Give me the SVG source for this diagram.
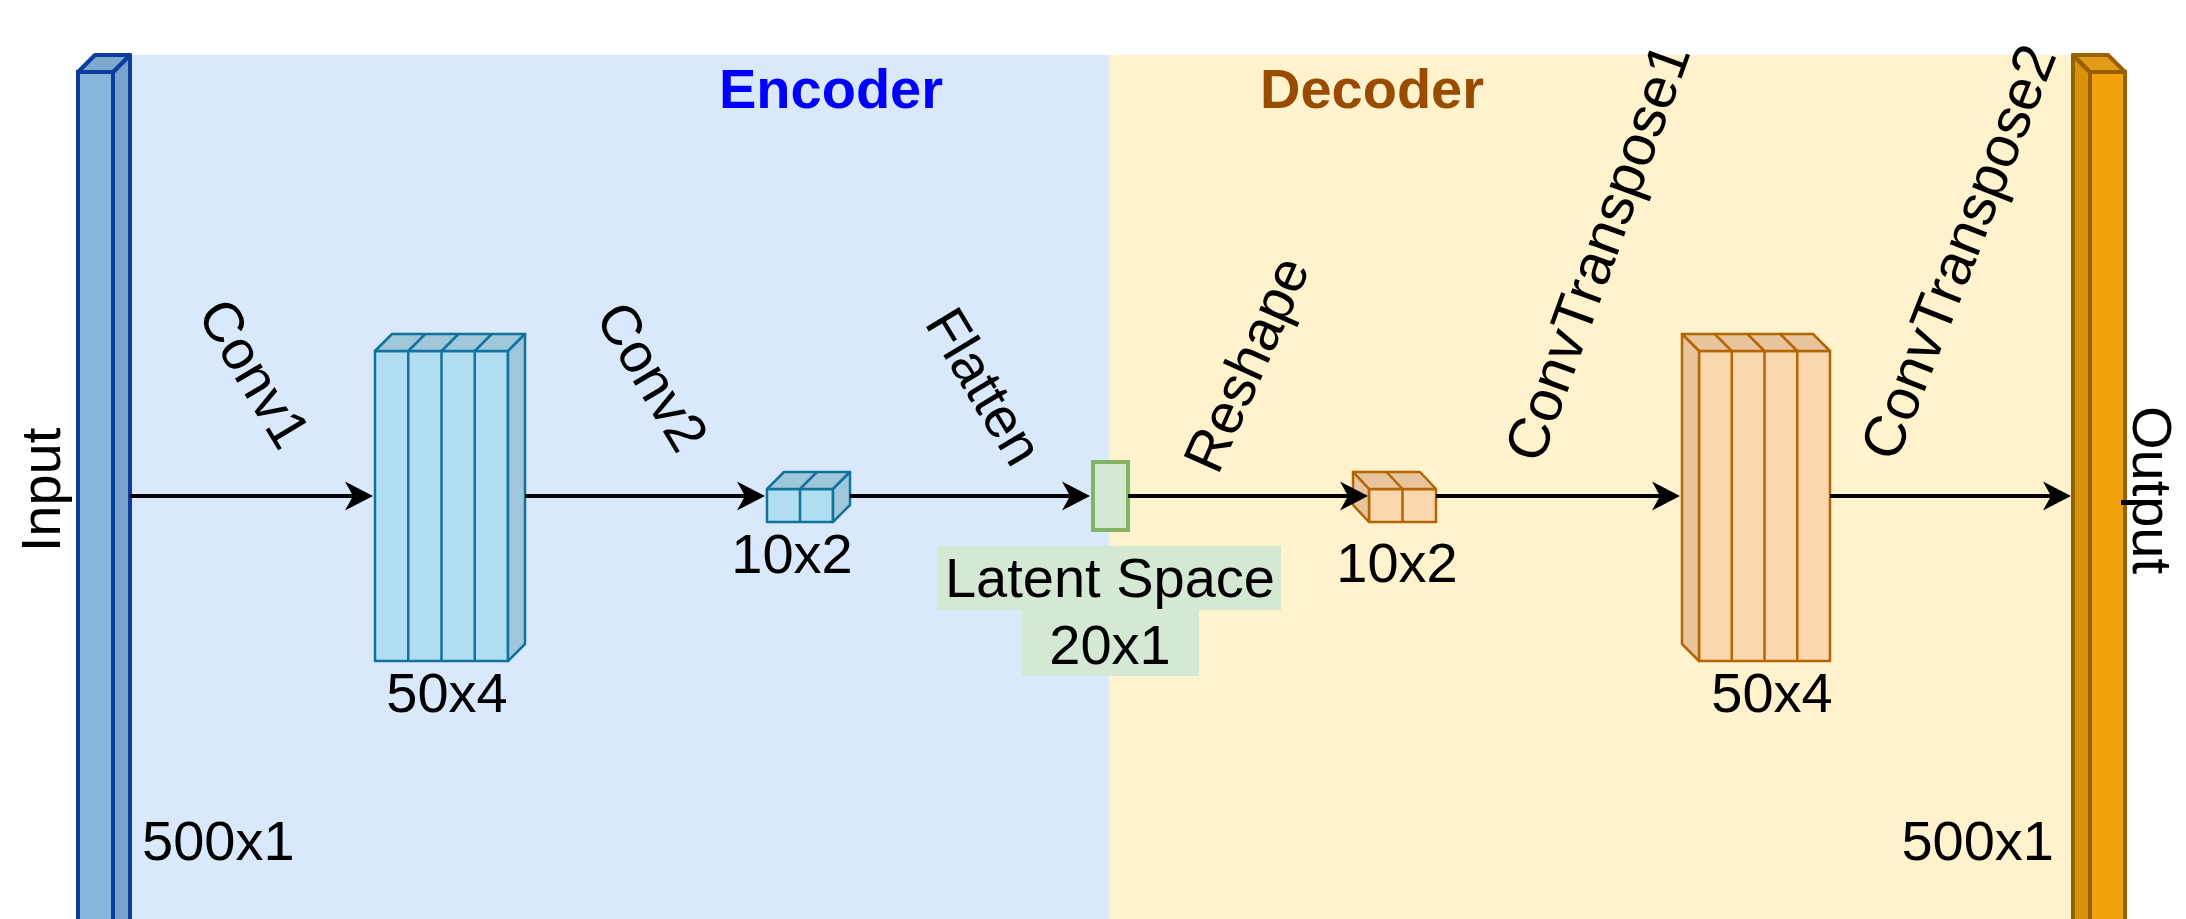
<svg xmlns="http://www.w3.org/2000/svg" width="2186" height="919" viewBox="0 0 2186 919">
<style>
text{font-family:"Liberation Sans",Arial,sans-serif;font-size:56px;fill:#000}
.title{font-weight:bold}
.big{font-size:58px}
.enc{stroke:#10739E;stroke-width:2.5;stroke-linejoin:round}
.encF{fill:#B1DDF0}
.encS{fill:#A0C6D9}
.dec{stroke:#B46504;stroke-width:2.5;stroke-linejoin:round}
.decF{fill:#FAD7AC}
.decS{fill:#E8C49C}
.edge{stroke:#000;stroke-width:4;fill:none;marker-end:url(#arr)}
</style>
<defs>
<marker id="arr" markerUnits="userSpaceOnUse" markerWidth="30" markerHeight="30" viewBox="0 0 30 30" refX="8" refY="15" orient="auto">
<path d="M0,0.5 L28,15 L0,29.5 L8,15 Z" fill="#000"/>
</marker>
</defs>
<rect x="0" y="0" width="2186" height="919" fill="#FFFFFF"/>
<g id="panels">
<rect x="95" y="55" width="1014.5" height="864" fill="#DAE8FC"/>
<rect x="1109.5" y="55" width="980" height="864" fill="#FFF2CC"/>
<text class="title" x="831" y="108" text-anchor="middle" style="fill:#0000FF">Encoder</text>
<text class="title" x="1372" y="108" text-anchor="middle" style="fill:#994C00">Decoder</text>
</g>
<g id="input">
<rect x="78" y="72" width="35" height="860" fill="#87B5DB" stroke="#0B3C9E" stroke-width="4"/>
<polygon points="113,72 130,55 130,932 113,932" fill="#79A3C8" stroke="#0B3C9E" stroke-width="4" stroke-linejoin="round"/>
<polygon points="78,72 95,55 130,55 113,72" fill="#7FA9CC" stroke="#0B3C9E" stroke-width="4" stroke-linejoin="round"/>
<text transform="translate(60,490) rotate(-90)" text-anchor="middle">Input</text>
<text x="142" y="860">500x1</text>
</g>
<g id="conv1-out">
<rect class="enc encF" x="375" y="351" width="133" height="310"/>
<line class="enc" x1="408.25" y1="351" x2="408.25" y2="661"/>
<line class="enc" x1="441.5" y1="351" x2="441.5" y2="661"/>
<line class="enc" x1="474.75" y1="351" x2="474.75" y2="661"/>
<polygon class="enc encS" points="375,351 392,334 525,334 508,351"/>
<line class="enc" x1="408.25" y1="351" x2="425.25" y2="334"/>
<line class="enc" x1="441.5" y1="351" x2="458.5" y2="334"/>
<line class="enc" x1="474.75" y1="351" x2="491.75" y2="334"/>
<polygon class="enc encS" points="508,351 525,334 525,644 508,661"/>
<text x="447" y="712" text-anchor="middle">50x4</text>
</g>
<g id="conv2-out">
<rect class="enc encF" x="767" y="489" width="66" height="33"/>
<line class="enc" x1="800" y1="489" x2="800" y2="522"/>
<polygon class="enc encS" points="767,489 784,472 850,472 833,489"/>
<line class="enc" x1="800" y1="489" x2="817" y2="472"/>
<polygon class="enc encS" points="833,489 850,472 850,505 833,522"/>
<text x="792" y="573" text-anchor="middle">10x2</text>
</g>
<g id="latent">
<rect x="1093" y="462" width="35" height="68" fill="#D5E8D4" stroke="#82B366" stroke-width="4"/>
<rect x="938" y="546" width="343" height="64" fill="#D5E8D4"/>
<rect x="1022" y="610" width="177" height="66" fill="#D5E8D4"/>
<text x="1110" y="597" text-anchor="middle">Latent Space</text>
<text x="1110" y="664" text-anchor="middle">20x1</text>
</g>
<g id="reshape-out">
<rect class="dec decF" x="1369" y="489" width="67" height="33"/>
<line class="dec" x1="1402.5" y1="489" x2="1402.5" y2="522"/>
<polygon class="dec decS" points="1369,489 1353,472 1420,472 1436,489"/>
<line class="dec" x1="1402.5" y1="489" x2="1386.5" y2="472"/>
<polygon class="dec decS" points="1369,489 1353,472 1353,505 1369,522"/>
<text x="1397" y="582" text-anchor="middle">10x2</text>
</g>
<g id="convt1-out">
<rect class="dec decF" x="1699" y="351" width="131" height="310"/>
<line class="dec" x1="1731.75" y1="351" x2="1731.75" y2="661"/>
<line class="dec" x1="1764.5" y1="351" x2="1764.5" y2="661"/>
<line class="dec" x1="1797.25" y1="351" x2="1797.25" y2="661"/>
<polygon class="dec decS" points="1699,351 1682,334 1813,334 1830,351"/>
<line class="dec" x1="1731.75" y1="351" x2="1714.75" y2="334"/>
<line class="dec" x1="1764.5" y1="351" x2="1747.5" y2="334"/>
<line class="dec" x1="1797.25" y1="351" x2="1780.25" y2="334"/>
<polygon class="dec decS" points="1699,351 1682,334 1682,644 1699,661"/>
<text x="1772" y="712" text-anchor="middle">50x4</text>
</g>
<g id="output">
<rect x="2090" y="72" width="35" height="860" fill="#F0A30A" stroke="#996000" stroke-width="4"/>
<polygon points="2090,72 2073,55 2073,932 2090,932" fill="#D8920E" stroke="#996000" stroke-width="4" stroke-linejoin="round"/>
<polygon points="2073,55 2108,55 2125,72 2090,72" fill="#E39C1A" stroke="#996000" stroke-width="4" stroke-linejoin="round"/>
<text transform="translate(2133,490) rotate(90)" text-anchor="middle">Output</text>
<text x="2054" y="860" text-anchor="end">500x1</text>
</g>
<g id="connectors">
<path class="edge" d="M130,496 H353"/>
<path class="edge" d="M525,496 H745"/>
<path class="edge" d="M850,496 H1070"/>
<path class="edge" d="M1128,496 H1348"/>
<path class="edge" d="M1436,496 H1660"/>
<path class="edge" d="M1830,496 H2051"/>
<text transform="translate(255,373) rotate(59)" y="20" text-anchor="middle">Conv1</text>
<text transform="translate(653,376) rotate(59)" y="20" text-anchor="middle">Conv2</text>
<text transform="translate(985,386) rotate(59)" y="20" text-anchor="middle">Flatten</text>
<text class="big" transform="translate(1246,364) rotate(-66)" y="20" text-anchor="middle" style="font-size:57px">Reshape</text>
<text class="big" transform="translate(1597,252) rotate(-70)" y="20" text-anchor="middle">ConvTranspose1</text>
<text class="big" transform="translate(1958,252) rotate(-68.5)" y="20" text-anchor="middle">ConvTranspose2</text>
</g>
</svg>
